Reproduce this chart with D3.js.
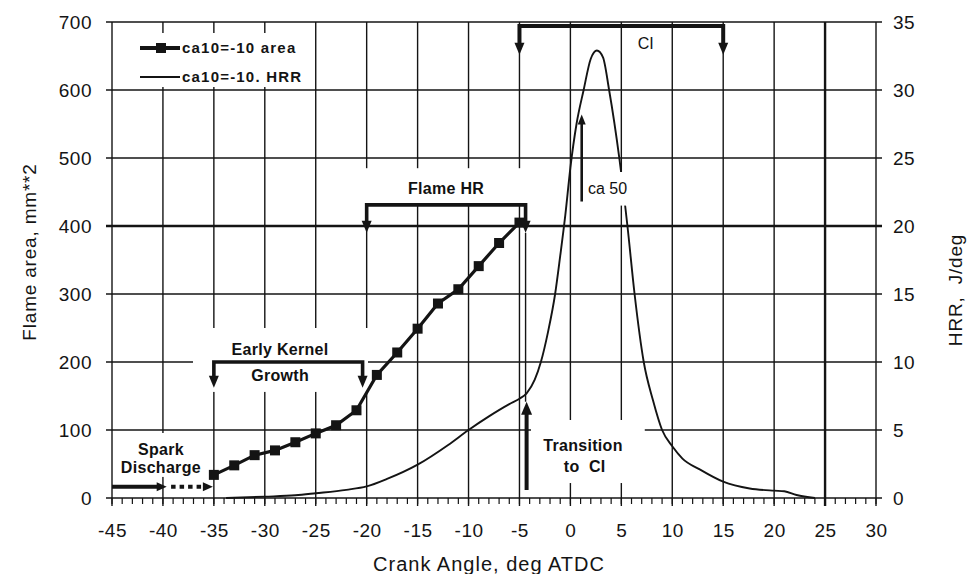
<!DOCTYPE html>
<html>
<head>
<meta charset="utf-8">
<script src="https://cdn.jsdelivr.net/npm/d3@7"></script>
<style>
  body { margin: 0; background: #fff; }
  svg { font-family: "Liberation Sans", Arial, sans-serif; }
  .note { font-size: 16px; font-weight: bold; fill: #111; letter-spacing: 0.3px; white-space: pre; }
  .plain { font-size: 16px; fill: #111; }
</style>
</head>
<body>
<div id="chart"></div>
<script>
// flame area, ca10=-10 (left axis, mm**2)
const areaAngle = [-35, -33, -31, -29, -27, -25, -23, -21, -19, -17, -15, -13, -11, -9, -7, -5];
const areaValue = [34, 48, 63, 70, 82, 95, 107, 129, 181, 214, 249, 286, 307, 341, 375, 405];

// heat release rate, ca10=-10 (right axis, J/deg)
const hrrAngle = [-33.8, -30, -27, -25, -22, -20, -18, -15, -12, -10, -8, -6, -5, -4.3, -3.5, -2.9, -2.2, -1.5, -1, -0.5, 0, 0.6, 1.3, 2, 2.6, 3.2, 3.8, 4.8, 5.6, 6.3, 7.2, 8.1, 9, 10, 11, 12.7, 15, 17.6, 20, 21, 22.2, 24];
const hrrValue = [0, 0.1, 0.2, 0.35, 0.6, 0.85, 1.4, 2.45, 3.9, 5.0, 6.0, 6.9, 7.3, 7.7, 8.7, 10.0, 12.2, 15, 17.8, 20.8, 24.3, 27.5, 30, 32.3, 32.9, 32.4, 30, 25, 20, 15, 10, 7.2, 5.0, 3.8, 2.9, 2.1, 1.2, 0.7, 0.54, 0.5, 0.22, 0];

const xTicks = [-45, -40, -35, -30, -25, -20, -15, -10, -5, 0, 5, 10, 15, 20, 25, 30];
const yLeftTicks = [0, 100, 200, 300, 400, 500, 600, 700];
const yRightTicks = [0, 5, 10, 15, 20, 25, 30, 35];

const margin = {top: 22, right: 94, bottom: 76, left: 112};
const width = 970 - margin.left - margin.right;
const height = 574 - margin.top - margin.bottom;
const ink = "#141414";

const svg = d3.select("#chart").append("svg")
    .attr("width", 970)
    .attr("height", 574);
const g = svg.append("g")
    .attr("transform", `translate(${margin.left},${margin.top})`);

const x = d3.scaleLinear().domain([-45, 30]).range([0, width]);
const yArea = d3.scaleLinear().domain([0, 700]).range([height, 0]);
const yHrr = d3.scaleLinear().domain([0, 35]).range([height, 0]);

// grid
const grid = g.append("g").attr("stroke", ink);
grid.selectAll(".vgrid")
    .data(xTicks)
    .enter().append("line")
        .attr("x1", d => x(d)).attr("x2", d => x(d))
        .attr("y1", 0).attr("y2", height + 8)
        .attr("stroke-width", d => d === 25 ? 2.4 : 1.4);
grid.selectAll(".hgrid")
    .data(yLeftTicks)
    .enter().append("line")
        .attr("x1", -6).attr("x2", width + 6)
        .attr("y1", d => yArea(d)).attr("y2", d => yArea(d))
        .attr("stroke-width", d => d === 400 ? 2.4 : 1.4);
// minor ticks each degree
grid.selectAll(".minor")
    .data(d3.range(-45, 31, 1))
    .enter().append("line")
        .attr("x1", d => x(d)).attr("x2", d => x(d))
        .attr("y1", height).attr("y2", height + 6)
        .attr("stroke-width", 1.2);

// axis labels
const fmt = d => String(d);
const xAxis = g.append("g")
    .attr("transform", `translate(0,${height})`)
    .call(d3.axisBottom(x).tickValues(xTicks).tickSize(0).tickPadding(26).tickFormat(fmt));
const lAxis = g.append("g")
    .call(d3.axisLeft(yArea).tickValues(yLeftTicks).tickSize(0).tickPadding(20));
const rAxis = g.append("g")
    .attr("transform", `translate(${width},0)`)
    .call(d3.axisRight(yHrr).tickValues(yRightTicks).tickSize(0).tickPadding(17));
[xAxis, lAxis, rAxis].forEach(a => {
    a.select(".domain").remove();
    a.attr("font-family", null).attr("font-size", null);
    a.selectAll("text")
        .style("font-size", "19px")
        .style("letter-spacing", "0.5px")
        .attr("fill", ink);
});

// axis titles
svg.append("text")
    .attr("x", 489).attr("y", 571)
    .attr("text-anchor", "middle")
    .style("font-size", "20px").style("letter-spacing", "1px")
    .attr("fill", ink)
    .text("Crank Angle, deg ATDC");
svg.append("text")
    .attr("transform", "translate(36,252) rotate(-90)")
    .attr("text-anchor", "middle")
    .style("font-size", "19px").style("letter-spacing", "0.8px")
    .attr("fill", ink)
    .text("Flame area, mm**2");
svg.append("text")
    .attr("transform", "translate(962,290) rotate(-90)")
    .attr("text-anchor", "middle")
    .style("font-size", "19px").style("letter-spacing", "0.8px").style("white-space", "pre")
    .attr("fill", ink)
    .text("HRR,  J/deg");

// white backgrounds behind the notes
const boxes = g.append("g").attr("fill", "#fff");
function box(a0, a1, v0, v1) {
    boxes.append("rect")
        .attr("x", x(a0)).attr("width", x(a1) - x(a0))
        .attr("y", yArea(v1)).attr("height", yArea(v0) - yArea(v1));
}
box(-20.66, -3.97, 431, 485);   // Flame HR
box(-37.05, -19.87, 156, 250);  // Early Kernel Growth
box(-44.0, -36.4, 31, 95.6);    // Spark Discharge
box(-3.87, 7.3, 22, 114.7);     // Transition to CI

// legend background
g.append("rect").attr("x", 18).attr("y", 11).attr("width", 175).attr("height", 54).attr("fill", "#fff");

// HRR curve
const hrrLine = d3.line()
    .x((d, i) => x(hrrAngle[i]))
    .y(d => yHrr(d))
    .curve(d3.curveMonotoneX);
g.append("path")
    .datum(hrrValue)
    .attr("d", hrrLine)
    .attr("fill", "none")
    .attr("stroke", ink)
    .attr("stroke-width", 1.9);

// ca 50 label background (cuts the curve)
g.append("rect")
    .attr("x", x(1.53)).attr("width", x(6.05) - x(1.53))
    .attr("y", yHrr(23.97)).attr("height", yHrr(21.5) - yHrr(23.97))
    .attr("fill", "#fff");

// flame area series
const areaLine = d3.line()
    .x((d, i) => x(areaAngle[i]))
    .y(d => yArea(d));
g.append("path")
    .datum(areaValue)
    .attr("d", areaLine)
    .attr("fill", "none")
    .attr("stroke", ink)
    .attr("stroke-width", 3.2);
g.selectAll(".sq")
    .data(areaValue)
    .enter().append("rect")
        .attr("x", (d, i) => x(areaAngle[i]) - 5)
        .attr("y", d => yArea(d) - 5)
        .attr("width", 10).attr("height", 10)
        .attr("fill", ink);

// notes
const notes = g.append("g");
function head(px, py, dir, w, h) {
    let p;
    if (dir === "down") p = [[px - w / 2, py - h], [px + w / 2, py - h], [px, py]];
    if (dir === "up") p = [[px - w / 2, py + h], [px + w / 2, py + h], [px, py]];
    if (dir === "right") p = [[px - h, py - w / 2], [px - h, py + w / 2], [px, py]];
    notes.append("path").attr("d", "M" + p.join("L") + "Z").attr("fill", ink);
}
function bracket(a0, a1, vTop, vTip, thick) {
    const pts = [[x(a0), yArea(vTip) - 8], [x(a0), yArea(vTop)], [x(a1), yArea(vTop)], [x(a1), yArea(vTip) - 8]];
    notes.append("path")
        .attr("d", "M" + pts.join("L"))
        .attr("fill", "none").attr("stroke", ink)
        .attr("stroke-width", thick).attr("stroke-linejoin", "miter");
    head(x(a0), yArea(vTip), "down", 10, 12);
    head(x(a1), yArea(vTip), "down", 10, 12);
}

// CI
bracket(-5, 15, 694, 652, 4);
notes.append("text").attr("class", "plain")
    .attr("x", x(6.6)).attr("y", yArea(669)).attr("dy", "0.35em").text("CI");

// Flame HR
bracket(-20, -4.4, 431, 390, 3.6);
notes.append("text").attr("class", "note")
    .attr("x", (x(-20) + x(-4.4)) / 2).attr("y", yArea(455)).attr("dy", "0.35em")
    .attr("text-anchor", "middle").text("Flame HR");

// thin link down to the transition arrow
notes.append("line")
    .attr("x1", x(-4.4)).attr("x2", x(-4.4))
    .attr("y1", yArea(390)).attr("y2", yArea(141.6))
    .attr("stroke", ink).attr("stroke-width", 1.4);

// Early Kernel Growth
bracket(-35, -20.4, 200, 162, 3.6);
notes.append("text").attr("class", "note")
    .attr("x", x(-28.5)).attr("y", yArea(218)).attr("dy", "0.35em")
    .attr("text-anchor", "middle").text("Early Kernel");
notes.append("text").attr("class", "note")
    .attr("x", x(-28.5)).attr("y", yArea(181)).attr("dy", "0.35em")
    .attr("text-anchor", "middle").text("Growth");

// Spark Discharge
notes.append("line")
    .attr("x1", x(-45)).attr("x2", x(-40.3))
    .attr("y1", yArea(16.6)).attr("y2", yArea(16.6))
    .attr("stroke", ink).attr("stroke-width", 4);
head(x(-39.63), yArea(16.6), "right", 9, 10);
notes.append("line")
    .attr("x1", x(-39.2)).attr("x2", x(-35.9))
    .attr("y1", yArea(16.6)).attr("y2", yArea(16.6))
    .attr("stroke", ink).attr("stroke-width", 4).attr("stroke-dasharray", "4.5,4");
head(x(-35.1), yArea(16.6), "right", 9, 10);
notes.append("text").attr("class", "note")
    .attr("x", x(-40.2)).attr("y", yArea(72)).attr("dy", "0.35em")
    .attr("text-anchor", "middle").text("Spark");
notes.append("text").attr("class", "note")
    .attr("x", x(-40.2)).attr("y", yArea(45)).attr("dy", "0.35em")
    .attr("text-anchor", "middle").text("Discharge");

// Transition to CI
notes.append("line")
    .attr("x1", x(-4.3)).attr("x2", x(-4.3))
    .attr("y1", yArea(11.8)).attr("y2", yArea(141.6) + 10)
    .attr("stroke", ink).attr("stroke-width", 4);
head(x(-4.3), yArea(141.6), "up", 11, 13);
notes.append("text").attr("class", "note")
    .attr("x", x(1.24)).attr("y", yArea(78)).attr("dy", "0.35em")
    .attr("text-anchor", "middle").text("Transition");
notes.append("text").attr("class", "note")
    .attr("x", x(1.4)).attr("y", yArea(47)).attr("dy", "0.35em")
    .attr("text-anchor", "middle").text("to  CI");

// ca 50
notes.append("line")
    .attr("x1", x(1.11)).attr("x2", x(1.11))
    .attr("y1", yHrr(21.8)).attr("y2", yHrr(28.2) + 8)
    .attr("stroke", ink).attr("stroke-width", 2.6);
head(x(1.11), yHrr(28.2), "up", 8, 10);
notes.append("text").attr("class", "plain")
    .attr("x", x(1.73)).attr("y", yHrr(22.75)).attr("dy", "0.35em")
    .text("ca 50");

// legend
const leg = g.append("g");
leg.append("line").attr("x1", 28).attr("x2", 68).attr("y1", 26).attr("y2", 26)
    .attr("stroke", ink).attr("stroke-width", 4);
leg.append("rect").attr("x", 44).attr("y", 21).attr("width", 10).attr("height", 10).attr("fill", ink);
leg.append("line").attr("x1", 28).attr("x2", 68).attr("y1", 55).attr("y2", 55)
    .attr("stroke", ink).attr("stroke-width", 2);
leg.selectAll("text")
    .data(["ca10=-10 area", "ca10=-10. HRR"])
    .enter().append("text")
        .attr("x", 70).attr("y", (d, i) => 26 + i * 29).attr("dy", "0.35em")
        .style("font-size", "15px").style("font-weight", "bold").style("letter-spacing", "1.2px")
        .attr("fill", ink)
        .text(d => d);
</script>
</body>
</html>
